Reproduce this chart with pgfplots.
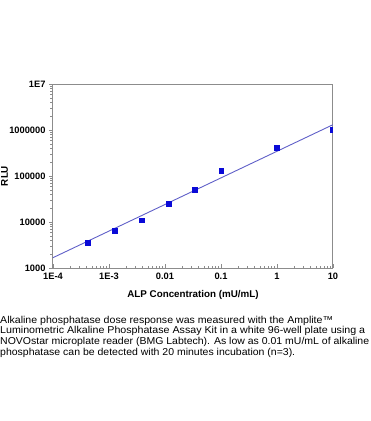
\documentclass[border=0pt]{standalone}
\usepackage{fontspec}
\setmainfont{Liberation Sans}
\usepackage{pgfplots}
\pgfplotsset{compat=1.18}
\definecolor{axisgray}{RGB}{140,140,140}
\definecolor{markblue}{RGB}{10,10,215}
\definecolor{lineblue}{RGB}{95,95,200}
\begin{document}
\begin{tikzpicture}[x=1pt,y=1pt]
\path[use as bounding box] (0,0) rectangle (371,-421);
\begin{axis}[
  at={(53pt,-268pt)}, anchor=south west,
  scale only axis, width=280pt, height=184pt,
  xmode=log, ymode=log,
  xmin=1e-4, xmax=10, ymin=1000, ymax=1e7,
  xtick={1e-4,1e-3,1e-2,1e-1,1,10},
  xticklabels={1E-4,1E-3,0.01,0.1,1,10},
  ytick={1e3,1e4,1e5,1e6,1e7},
  yticklabels={1000,10000,100000,1000000,1E7},
  /pgf/number format/assume math mode=true,
  tick label style={font=\fontsize{9.3}{10}\selectfont\bfseries, text=black},
  xticklabel style={yshift=-1.5pt},
  axis line style={axisgray, line width=1pt},
  tick style={axisgray, line width=0.6pt},
  major tick length=4pt, minor tick length=2.5pt,
  xtick pos=bottom, ytick pos=left,
  xtick align=inside, ytick align=outside,
  xlabel={ALP Concentration (mU/mL)},
  ylabel={RLU},
  label style={font=\fontsize{9.8}{11}\selectfont\bfseries},
  xlabel style={at={(axis description cs:0.5,-0.147)}, anchor=center},
  ylabel style={at={(axis description cs:-0.173,0.5)}, anchor=center},
  clip marker paths=true,
]
\addplot[lineblue, line width=0.9pt, no marks] coordinates {(1e-4,1677) (10,1.306e6)};
\addplot[only marks, mark=square*, mark size=2.4pt, color=markblue] coordinates {
  (4.2e-4,3550) (1.25e-3,6550) (3.8e-3,11000) (0.0115,25000)
  (0.034,50000) (0.101,132000) (0.99,405000) (10,1.0e6)
};
\end{axis}
\begin{scope}[every node/.style={anchor=base west, inner sep=0pt, font=\fontsize{10}{11}\selectfont}]
\node at (0,-323.3) {\resizebox{333pt}{\height}{Alkaline phosphatase dose response was measured with the Amplite™}};
\node at (0,-333.9) {\resizebox{365pt}{\height}{Luminometric Alkaline Phosphatase Assay Kit in a white 96-well plate using a}};
\node at (0,-344.5) {\resizebox{369pt}{\height}{NOVOstar microplate reader (BMG Labtech). As low as 0.01 mU/mL of alkaline}};
\node at (0,-355.1) {\resizebox{295pt}{\height}{phosphatase can be detected with 20 minutes incubation (n=3).}};
\end{scope}
\end{tikzpicture}
\end{document}
